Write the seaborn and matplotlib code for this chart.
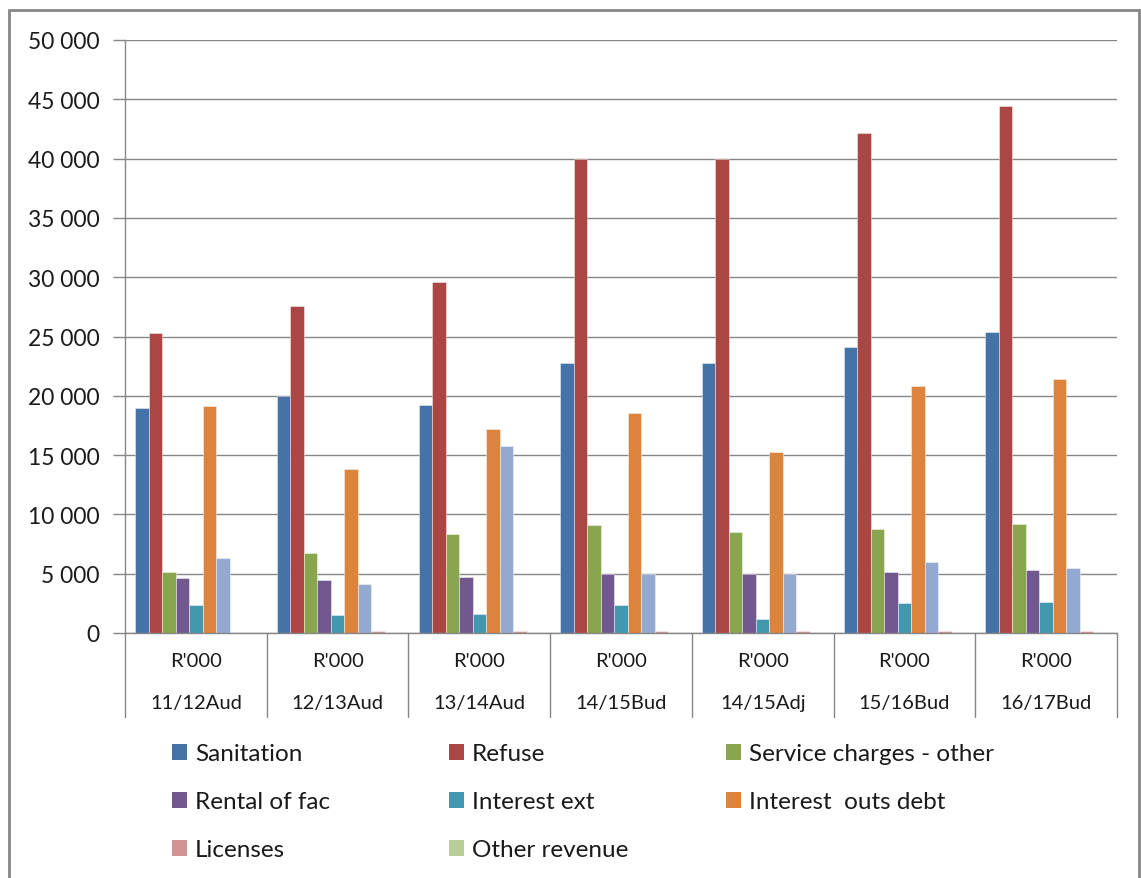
import matplotlib
matplotlib.use("Agg")
import matplotlib.pyplot as plt
from matplotlib.patches import Rectangle, Patch
from matplotlib.transforms import blended_transform_factory
import seaborn as sns
import pandas as pd

periods = ["11/12Aud", "12/13Aud", "13/14Aud", "14/15Bud", "14/15Adj", "15/16Bud", "16/17Bud"]
unit_label = "R'000"

series = ["Sanitation", "Refuse", "Service charges - other", "Rental of fac",
          "Interest ext", "Interest  outs debt", "Fines", "Licenses", "Other revenue"]

sanitation = [18950, 19980, 19250, 22790, 22790, 24090, 25380]
refuse = [25270, 27550, 29600, 40000, 40000, 42130, 44410]
service_other = [5120, 6720, 8350, 9080, 8540, 8770, 9190]
rental_fac = [4670, 4440, 4750, 4990, 4990, 5120, 5310]
interest_ext = [2390, 1520, 1630, 2390, 1180, 2500, 2610]
interest_debt = [19110, 13830, 17200, 18580, 15240, 20850, 21420]
fines = [6300, 4130, 15800, 4990, 4990, 5960, 5510]
licenses = [0, 150, 150, 150, 150, 150, 150]
other_revenue = [0, 0, 0, 0, 0, 0, 0]

values = [sanitation, refuse, service_other, rental_fac, interest_ext,
          interest_debt, fines, licenses, other_revenue]

colors = ["#4572A7", "#AA4643", "#89A54E", "#71588F", "#4198AF",
          "#DB843D", "#93A9CF", "#D19392", "#B9CD96"]

# series shown in the legend, in reading order (row by row)
legend_rows = [["Sanitation", "Refuse", "Service charges - other"],
               ["Rental of fac", "Interest ext", "Interest  outs debt"],
               ["Licenses", "Other revenue"]]

rows = []
for name, vals in zip(series, values):
    for p, v in zip(periods, vals):
        rows.append({"period": p, "series": name, "value": v})
df = pd.DataFrame(rows)

sns.set_style("white")
plt.rcParams["font.family"] = ["Lato", "DejaVu Sans"]

W, H = 1141, 879
fig = plt.figure(figsize=(W / 100, H / 100), dpi=100)
ax_left, ax_right, ax_top, ax_bottom = 125, 1117, 41, 634
ax = fig.add_axes([ax_left / W, 1 - ax_bottom / H, (ax_right - ax_left) / W, (ax_bottom - ax_top) / H])

sns.barplot(data=df, x="period", y="value", hue="series", order=periods,
            hue_order=series, palette=colors, saturation=1, width=0.857,
            ax=ax, legend=False, linewidth=0.6, edgecolor="#ffffff80")

grid_c = "#868686"
text_c = "#1a1a1a"
ax.set_ylim(0, 50000)
ax.set_xlim(-0.5, len(periods) - 0.5)
ticks = list(range(0, 50001, 5000))
ax.set_yticks(ticks)
ax.set_yticklabels([f"{t:,}".replace(",", " ") for t in ticks], fontsize=16.4, color=text_c)
ax.yaxis.grid(True, color=grid_c, linewidth=1)
ax.set_axisbelow(True)
ax.tick_params(axis="y", length=9, width=1, color=grid_c, pad=9.5, left=True)
ax.tick_params(axis="x", length=0, labelbottom=False)
ax.set_xlabel("")
ax.set_ylabel("")
for s in ["top", "right"]:
    ax.spines[s].set_visible(False)
for s in ["left", "bottom"]:
    ax.spines[s].set_color(grid_c)
    ax.spines[s].set_linewidth(1)

# two-level category axis with boxed cells below the plot
trans = blended_transform_factory(ax.transData, ax.transAxes)
plot_h = ax_bottom - ax_top
box_bottom = -(718 - ax_bottom) / plot_h
for i in range(len(periods) + 1):
    ax.plot([i - 0.5, i - 0.5], [0, box_bottom], transform=trans, color=grid_c,
            linewidth=1, clip_on=False)
for i, p in enumerate(periods):
    ax.text(i, -(662 - ax_bottom) / plot_h, unit_label, transform=trans,
            ha="center", va="center", fontsize=14.5, color=text_c)
    ax.text(i, -(704 - ax_bottom) / plot_h, p, transform=trans,
            ha="center", va="center", fontsize=14.5, color=text_c)

# legend laid out as three rows
color_of = dict(zip(series, colors))
col_x = [172, 449, 726]
row_y = [755, 803, 851]
for r, names in enumerate(legend_rows):
    for c, name in enumerate(names):
        handle = Patch(facecolor=color_of[name], edgecolor="none")
        fig.legend([handle], [name], loc="center left",
                   bbox_to_anchor=(col_x[c] / W, 1 - row_y[r] / H),
                   frameon=False, fontsize=17.5, handlelength=0.6, handleheight=0.6,
                   handletextpad=0.35, borderpad=0, borderaxespad=0,
                   labelcolor=text_c)

# outer chart border
fig.add_artist(Rectangle((9 / W, -0.05), (1139 - 9) / W, 1.05 - 11 / H,
                         transform=fig.transFigure, fill=False,
                         edgecolor=grid_c, linewidth=2))

fig.savefig("out.png", dpi=100)
